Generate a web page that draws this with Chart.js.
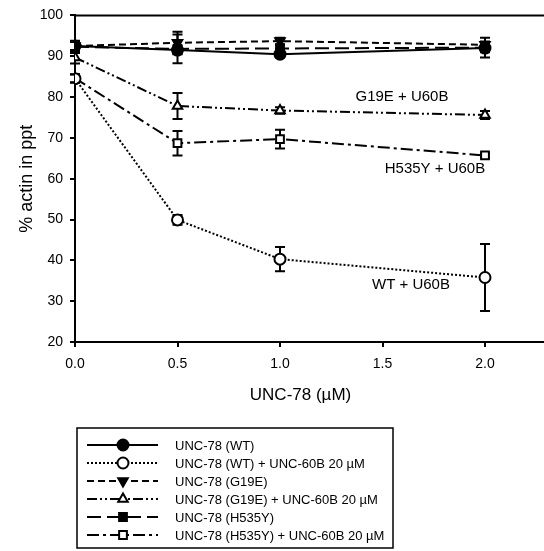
<!DOCTYPE html>
<html>
<head>
<meta charset="utf-8">
<script src="https://cdn.jsdelivr.net/npm/chart.js@4"></script>
<style>
  html, body { margin: 0; padding: 0; background: #fff; }
  #wrap { width: 544px; height: 551px; }
</style>
</head>
<body>
<div id="wrap"><canvas id="chart" width="544" height="551"></canvas></div>
<script>
// UNC-78 concentrations (uM)
const doses = [0, 0.5, 1.0, 2.0];

// % actin in pellet
const wt        = [92.5, 91.5, 90.5, 92.0];
const wtU60     = [84.5, 49.9, 40.3, 35.8];
const g19e      = [92.5, 93.3, 93.7, 92.8];
const g19eU60   = [89.7, 77.8, 76.7, 75.6];
const h535y     = [92.3, 91.8, 91.9, 92.1];
const h535yU60  = [84.6, 68.7, 69.7, 65.7];

// error bars (+/-)
const wtErr       = [1.0, 1.0, 0.8, 1.0];
const wtU60Err    = [1.0, 1.2, 3.0, 8.2];
const g19eErr     = [1.0, 2.7, 0.8, 0.8];
const g19eU60Err  = [1.5, 3.2, 0.8, 1.0];
const h535yErr    = [1.5, 3.5, 1.0, 2.4];
const h535yU60Err = [1.0, 3.0, 2.3, 0.5];

const yTicks = [20, 30, 40, 50, 60, 70, 80, 90, 100];
const xTicks = [0, 0.5, 1.0, 1.5, 2.0];

// in-plot labels (data coordinates)
const notes = [
  { text: 'G19E + U60B', x: 1.595, y: 80.1 },
  { text: 'H535Y + U60B', x: 1.756, y: 62.3 },
  { text: 'WT + U60B', x: 1.639, y: 34.1 },
];

const font = 'Liberation Sans, Arial, sans-serif';

function pts(vals) {
  return vals.map((v, i) => ({ x: doses[i], y: v }));
}

function series(label, vals, errs, style, dash, filled, rot) {
  return {
    label: label,
    data: pts(vals),
    errors: errs,
    borderColor: '#000',
    borderWidth: 2,
    borderDash: dash,
    pointStyle: style,
    pointRotation: rot || 0,
    pointRadius: 5.5,
    pointBorderWidth: 2,
    pointBorderColor: '#000',
    pointBackgroundColor: filled ? '#000' : '#fff',
    fill: false,
    tension: 0,
  };
}

const datasets = [
  series('UNC-78 (WT)', wt, wtErr, 'circle', [], true),
  series('UNC-78 (WT) + UNC-60B 20 \u00b5M', wtU60, wtU60Err, 'circle', [2, 2], false),
  series('UNC-78 (G19E)', g19e, g19eErr, 'triangle', [7, 4], true, 180),
  series('UNC-78 (G19E) + UNC-60B 20 \u00b5M', g19eU60, g19eU60Err, 'triangle', [10, 3, 2, 3, 2, 3], false),
  series('UNC-78 (H535Y)', h535y, h535yErr, 'rect', [14, 6], true),
  series('UNC-78 (H535Y) + UNC-60B 20 \u00b5M', h535yU60, h535yU60Err, 'rect', [12, 4, 3, 4], false),
];

const extras = {
  id: 'extras',
  beforeDatasetsDraw(chart) {
    const ctx = chart.ctx;
    const xs = chart.scales.x, ys = chart.scales.y;
    ctx.save();
    ctx.strokeStyle = '#000';
    ctx.lineWidth = 2;
    chart.data.datasets.forEach(ds => {
      ds.data.forEach((p, i) => {
        const e = ds.errors[i];
        const px = xs.getPixelForValue(p.x);
        const top = ys.getPixelForValue(p.y + e);
        const bot = ys.getPixelForValue(p.y - e);
        ctx.beginPath();
        ctx.moveTo(px, top); ctx.lineTo(px, bot);
        ctx.moveTo(px - 5, top); ctx.lineTo(px + 5, top);
        ctx.moveTo(px - 5, bot); ctx.lineTo(px + 5, bot);
        ctx.stroke();
      });
    });
    ctx.restore();
  },
  afterDraw(chart) {
    const ctx = chart.ctx;
    const a = chart.chartArea;
    const xs = chart.scales.x, ys = chart.scales.y;
    const W = chart.width;
    ctx.save();
    // top frame line and extension of x axis to the edge
    ctx.strokeStyle = '#000';
    ctx.lineWidth = 2;
    ctx.beginPath();
    ctx.moveTo(a.left - 1, a.top); ctx.lineTo(W, a.top);
    ctx.moveTo(a.right, a.bottom); ctx.lineTo(W, a.bottom);
    ctx.stroke();

    // notes
    ctx.fillStyle = '#000';
    ctx.font = '15px ' + font;
    ctx.textAlign = 'center';
    ctx.textBaseline = 'middle';
    notes.forEach(n => {
      ctx.fillText(n.text, xs.getPixelForValue(n.x), ys.getPixelForValue(n.y));
    });

    // legend box
    const bx = 77, by = 428, bw = 316, bh = 120;
    ctx.lineWidth = 1.5;
    ctx.strokeRect(bx, by, bw, bh);
    ctx.font = '13px ' + font;
    ctx.textAlign = 'left';
    chart.data.datasets.forEach((ds, i) => {
      const y = by + 17 + i * 18;
      ctx.lineWidth = 2;
      ctx.setLineDash(ds.borderDash);
      ctx.beginPath();
      ctx.moveTo(87, y); ctx.lineTo(158, y);
      ctx.stroke();
      ctx.setLineDash([]);
      ctx.fillStyle = ds.pointBackgroundColor;
      ctx.strokeStyle = '#000';
      Chart.helpers.drawPoint(ctx, {
        pointStyle: ds.pointStyle,
        radius: ds.pointRadius,
        rotation: ds.pointRotation,
        borderWidth: 2,
      }, 123, y);
      ctx.fillStyle = '#000';
      ctx.fillText(ds.label, 175, y + 1);
    });
    ctx.restore();
  }
};

new Chart(document.getElementById('chart'), {
  type: 'line',
  data: { datasets: datasets },
  plugins: [extras],
  options: {
    responsive: false,
    animation: false,
    layout: { padding: { left: 16, right: 18, top: 12, bottom: 145 } },
    plugins: { legend: { display: false }, tooltip: { enabled: false } },
    scales: {
      x: {
        type: 'linear',
        min: 0,
        max: 2.2,
        afterBuildTicks: s => { s.ticks = xTicks.map(v => ({ value: v })); },
        afterFit: s => { s.height = 64; },
        grid: { display: true, drawOnChartArea: false, drawTicks: true, tickLength: 5, color: '#000', lineWidth: 2 },
        border: { color: '#000', width: 2 },
        ticks: { color: '#000', font: { family: font, size: 14 }, padding: 9, callback: v => v.toFixed(1), maxRotation: 0 },
        title: { display: true, text: 'UNC-78 (\u00b5M)', color: '#000', font: { family: font, size: 17 }, padding: { top: 10, bottom: 0 } },
      },
      y: {
        type: 'linear',
        min: 20,
        max: 100,
        afterBuildTicks: s => { s.ticks = yTicks.map(v => ({ value: v })); },
        afterFit: s => { s.width = 59; },
        grid: { display: true, drawOnChartArea: false, drawTicks: true, tickLength: 5, color: '#000', lineWidth: 2 },
        border: { color: '#000', width: 2 },
        ticks: { color: '#000', font: { family: font, size: 14 }, padding: 7 },
        title: { display: true, text: '% actin in ppt', color: '#000', font: { family: font, size: 18 }, padding: 0 },
      },
    },
  },
});
</script>
</body>
</html>
